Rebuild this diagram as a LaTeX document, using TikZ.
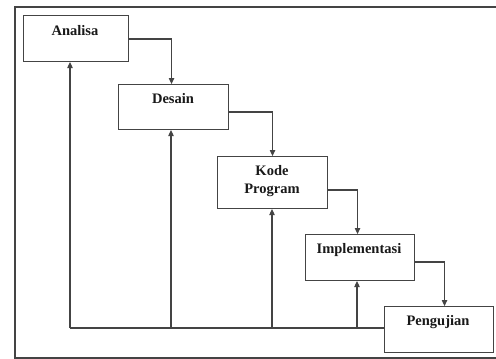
\documentclass[tikz,border=0pt]{standalone}
\usepackage{fontspec}
\setmainfont{Liberation Serif}
\usetikzlibrary{arrows.meta}
\definecolor{ln}{HTML}{444444}
\tikzset{
  box/.style={draw=ln, line width=1.1pt, fill=white, inner sep=0pt, anchor=north west},
  lbl/.style={font=\fontsize{14.5}{18.5}\selectfont\bfseries, text=black!90, align=center, inner sep=0pt},
  conn/.style={draw=ln, line width=1.1pt},
  arr/.style={conn, -{Triangle[length=6pt,width=5.5pt]}}
}
\begin{document}
\begin{tikzpicture}[x=1pt,y=-1pt]
\useasboundingbox (0,0) rectangle (496,359);
% outer frame
\draw[draw=ln, line width=1.3pt] (497,7) -- (15,7) -- (15,358) -- (497,358);
% boxes
\node[box, minimum width=105pt, minimum height=46pt] (A) at (23,15) {};
\node[box, minimum width=110pt, minimum height=45pt] (D) at (118,84) {};
\node[box, minimum width=110pt, minimum height=52pt] (K) at (217,156) {};
\node[box, minimum width=109pt, minimum height=46pt] (I) at (305,234) {};
\node[box, minimum width=109pt, minimum height=46pt] (P) at (384,306) {};
% labels
\node[lbl] (tA) at (75,31) {Analisa};
\node[lbl] (tD) at (173,99) {Desain};
\node[lbl] (tK) at (272,181) {Kode\\Program};
\node[lbl] (tI) at (359,250) {Implementasi};
\node[lbl] (tP) at (438,322) {Pengujian};
% forward connectors
\coordinate (a1) at (128,39);
\coordinate (d1) at (228,112);
\coordinate (k1) at (327,190);
\coordinate (i1) at (414,262);
\draw[arr] (a1) -| ([xshift=-2pt]D.north);
\draw[arr] (d1) -| (K.north);
\draw[arr] (k1) -| ([xshift=-2.5pt]I.north);
\draw[arr] (i1) -| ([xshift=5.5pt]P.north);
% feedback
\coordinate (f1) at (70,328);
\coordinate (f2) at (171,328);
\coordinate (f3) at (272,328);
\coordinate (f4) at (357,328);
\draw[conn] (P.west |- f1) -- (f1);
\draw[arr] (f1) -- (f1 |- A.south);
\draw[arr] (f2) -- (f2 |- D.south);
\draw[arr] (f3) -- (f3 |- K.south);
\draw[arr] (f4) -- (f4 |- I.south);
\end{tikzpicture}
\end{document}
